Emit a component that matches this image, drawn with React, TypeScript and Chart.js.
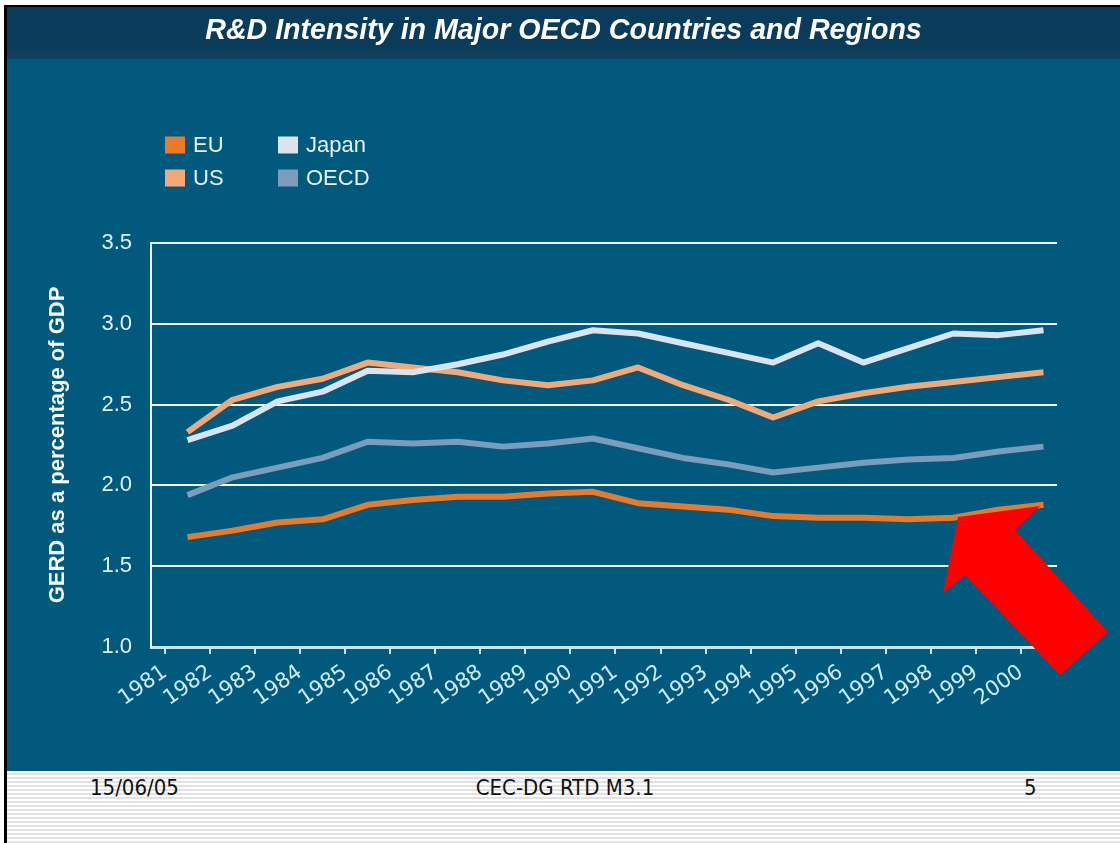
import React, { useEffect, useRef } from "react";
import { Chart, registerables } from "chart.js";

Chart.register(...registerables);

// ---- data ----
const years = [1981, 1982, 1983, 1984, 1985, 1986, 1987, 1988, 1989, 1990, 1991, 1992, 1993, 1994, 1995, 1996, 1997, 1998, 1999, 2000];
const euValues = [1.68, 1.72, 1.77, 1.79, 1.88, 1.91, 1.93, 1.93, 1.95, 1.96, 1.89, 1.87, 1.85, 1.81, 1.80, 1.80, 1.79, 1.80, 1.85, 1.88];
const japanValues = [2.28, 2.37, 2.52, 2.58, 2.71, 2.70, 2.75, 2.81, 2.89, 2.96, 2.94, 2.88, 2.82, 2.76, 2.88, 2.76, 2.85, 2.94, 2.93, 2.96];
const usValues = [2.33, 2.53, 2.61, 2.66, 2.76, 2.73, 2.70, 2.65, 2.62, 2.65, 2.73, 2.62, 2.53, 2.42, 2.52, 2.57, 2.61, 2.64, 2.67, 2.70];
const oecdValues = [1.94, 2.05, 2.11, 2.17, 2.27, 2.26, 2.27, 2.24, 2.26, 2.29, 2.23, 2.17, 2.13, 2.08, 2.11, 2.14, 2.16, 2.17, 2.21, 2.24];
const seriesLabels = ["EU", "Japan", "US", "OECD"];
const yMin = 1.0;
const yMax = 3.5;
const yStep = 0.5;

const titleText = "R&D Intensity in Major OECD Countries and Regions";
const yTitleText = "GERD as a percentage of GDP";
const footerLeft = "15/06/05";
const footerCenter = "CEC-DG RTD M3.1";
const footerRight = "5";

// ---- styles ----
const seriesColors = ["#e97a2c", "#d9e4ee", "#f3a877", "#7b9dbb"];
const gridWhite = "#f0f8fb";
const axisCyan = "#c2eaf5";

const gridLegend = {
  id: "gridLegend",
  afterDraw(chart: any, _args: any, opts: any) {
    const { ctx } = chart;
    ctx.save();
    ctx.font = `${opts.fontSize}px ${opts.fontFamily}`;
    ctx.textBaseline = "middle";
    ctx.textAlign = "left";
    chart.data.datasets.forEach((d: any, i: number) => {
      const col = i % opts.columns;
      const row = Math.floor(i / opts.columns);
      const x = opts.x + col * opts.colWidth;
      const y = opts.y + row * opts.rowHeight;
      ctx.fillStyle = d.borderColor;
      ctx.fillRect(x, y - opts.boxHeight / 2, opts.boxWidth, opts.boxHeight);
      ctx.fillStyle = opts.color;
      ctx.fillText(d.label, x + opts.boxWidth + opts.gap, y + 1);
    });
    ctx.restore();
  },
};

export default function App() {
  const canvasRef = useRef<HTMLCanvasElement | null>(null);

  useEffect(() => {
    if (!canvasRef.current) return;
    const values = [euValues, japanValues, usValues, oecdValues];
    const chart = new Chart(canvasRef.current, {
      type: "line",
      data: {
        labels: years,
        datasets: seriesLabels.map((label, i) => ({
          label,
          data: values[i],
          borderColor: seriesColors[i],
          backgroundColor: seriesColors[i],
          borderWidth: 6,
          pointRadius: 0,
          tension: 0,
          borderJoinStyle: "round" as const,
          fill: false,
        })),
      },
      plugins: [gridLegend],
      options: {
        animation: false,
        responsive: true,
        maintainAspectRatio: false,
        events: [],
        layout: { padding: { left: 63, right: 63, top: 0, bottom: 0 } },
        plugins: {
          legend: { display: false },
          tooltip: { enabled: false },
          title: {
            display: true,
            text: titleText,
            color: "#ffffff",
            font: { family: "'Liberation Sans', Arial, sans-serif", size: 28.6, weight: "bold", style: "italic", lineHeight: 1.2 },
            padding: { top: 7, bottom: 194.7 },
          },
          gridLegend: {
            x: 158,
            y: 138,
            columns: 2,
            colWidth: 113,
            rowHeight: 33,
            boxWidth: 20,
            boxHeight: 17,
            gap: 8,
            fontSize: 22,
            fontFamily: "'Liberation Sans', Arial, sans-serif",
            color: "#e6f3f8",
          },
        } as any,
        scales: {
          x: {
            type: "linear",
            bounds: "data",
            min: years[0] - 0.81,
            max: years[years.length - 1] + 0.3,
            afterBuildTicks: (scale: any) => {
              scale.ticks = years.map((y) => ({ value: y - 0.5 }));
            },
            afterFit: (scale: any) => {
              scale.height = 123;
            },
            grid: {
              display: true,
              drawOnChartArea: false,
              drawTicks: true,
              tickLength: 7,
              color: axisCyan,
              lineWidth: 2,
            },
            border: { display: true, color: axisCyan, width: 3 },
            ticks: {
              autoSkip: false,
              minRotation: 35,
              maxRotation: 35,
              padding: 6,
              color: "#cdebf5",
              font: { family: "'DejaVu Sans', Verdana, sans-serif", size: 21 },
              callback: (v: any) => String(Math.round(Number(v) + 0.5)),
            },
          },
          y: {
            type: "linear",
            min: yMin,
            max: yMax,
            afterFit: (scale: any) => {
              scale.width = 81;
            },
            grid: {
              display: true,
              drawTicks: false,
              lineWidth: 2,
              color: (ctx: any) => (ctx.tick && ctx.tick.value === yMin ? axisCyan : gridWhite),
            },
            border: { display: true, color: gridWhite, width: 2 },
            ticks: {
              stepSize: yStep,
              padding: 19,
              color: "#e0f1f7",
              font: { family: "'Liberation Sans', Arial, sans-serif", size: 22 },
              callback: (v: any) => Number(v).toFixed(1),
            },
            title: {
              display: true,
              text: yTitleText,
              color: "#f5fbfd",
              font: { family: "'Liberation Sans', Arial, sans-serif", size: 22, weight: "bold", lineHeight: 1.2 },
              padding: { top: -25, bottom: 0 },
            },
          },
        },
      },
    } as any);
    return () => chart.destroy();
  }, []);

  const footerFont: React.CSSProperties = {
    position: "absolute",
    top: 775,
    fontFamily: "'DejaVu Sans Condensed', 'DejaVu Sans', sans-serif",
    fontStretch: "condensed",
    fontSize: 22,
    lineHeight: "26px",
    color: "#111",
    whiteSpace: "nowrap",
  };

  return (
    <div style={{ position: "absolute", left: 0, top: 0, width: 1120, height: 843, background: "#ffffff", overflow: "hidden" }}>
      {/* frame */}
      <div style={{ position: "absolute", left: 4, top: 5, width: 1120, height: 843, borderLeft: "3px solid #000", borderTop: "2px solid #000", boxSizing: "border-box" }} />
      {/* header band */}
      <div style={{ position: "absolute", left: 7, top: 7, width: 1113, height: 52, background: "linear-gradient(to bottom, #0a3b5b 0%, #0a3b5b 78%, #0c4565 100%)" }} />
      {/* slide body */}
      <div style={{ position: "absolute", left: 7, top: 59, width: 1113, height: 712, background: "#015a7e" }} />
      {/* footer */}
      <div style={{ position: "absolute", left: 7, top: 771, width: 1113, height: 72, background: "repeating-linear-gradient(to bottom, #ffffff 0px, #ffffff 2px, #e2e2e2 2px, #e2e2e2 4px)" }} />
      <div style={{ ...footerFont, left: 90 }}>{footerLeft}</div>
      <div style={{ ...footerFont, left: 565, transform: "translateX(-50%)" }}>{footerCenter}</div>
      <div style={{ ...footerFont, left: 1024 }}>{footerRight}</div>
      {/* chart */}
      <div style={{ position: "absolute", left: 7, top: 7, width: 1113, height: 763 }}>
        <canvas ref={canvasRef} />
      </div>
      {/* red arrow annotation */}
      <svg width={1120} height={843} style={{ position: "absolute", left: 0, top: 0, pointerEvents: "none" }}>
        <polygon points="958,517 1040,506 1015,530 1108,632 1060,675 965,575 943,593" fill="#ff0000" />
      </svg>
    </div>
  );
}
